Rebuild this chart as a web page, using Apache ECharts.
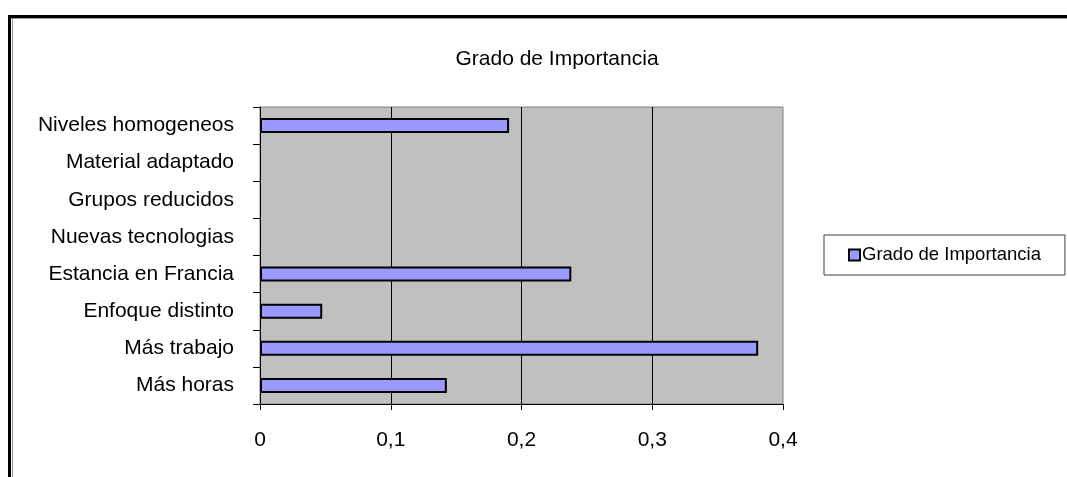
<!DOCTYPE html>
<html>
<head>
<meta charset="utf-8">
<script src="https://cdn.jsdelivr.net/npm/echarts@6/dist/echarts.min.js"></script>
<style>
  html, body { margin: 0; padding: 0; background: #fff; }
  #chart { width: 1067px; height: 477px; }
</style>
</head>
<body>
<div id="chart"></div>
<script>
// Categories listed bottom to top, as drawn on the vertical axis
const categories = [
  'Más horas',
  'Más trabajo',
  'Enfoque distinto',
  'Estancia en Francia',
  'Nuevas tecnologias',
  'Grupos reducidos',
  'Material adaptado',
  'Niveles homogeneos'
];
const importancia = [0.1429, 0.381, 0.0476, 0.2381, 0, 0, 0, 0.1905];
const seriesName = 'Grado de Importancia';
const titleText = 'Grado de Importancia';
const xTicks = { min: 0, max: 0.4, interval: 0.1 };

const FONT = "'Liberation Sans', Arial, sans-serif";
const chart = echarts.init(document.getElementById('chart'), null, { renderer: 'canvas' });

// zero-valued bars get no outline so they leave no stub on the axis
const barData = importancia.map(v => (v === 0 ? { value: v, itemStyle: { borderWidth: 0 } } : v));

chart.setOption({
  backgroundColor: '#ffffff',
  animation: false,
  title: {
    text: titleText,
    left: 552,
    top: 44,
    textAlign: 'center',
    textStyle: { fontFamily: FONT, fontSize: 21, fontWeight: 'normal', color: '#000' }
  },
  legend: {
    data: [seriesName],
    left: 824,
    top: 235,
    orient: 'vertical',
    icon: 'rect',
    itemWidth: 11,
    itemHeight: 11,
    padding: [10, 24, 10, 24],
    backgroundColor: '#ffffff',
    borderColor: '#404040',
    borderWidth: 1,
    borderRadius: 0,
    itemStyle: { color: '#9999FF', borderColor: '#000', borderWidth: 2 },
    textStyle: { fontFamily: FONT, fontSize: 18.5, color: '#000', lineHeight: 20, padding: [0, 0, 0, -3] }
  },
  grid: {
    left: 260,
    right: 284,
    top: 107,
    bottom: 73,
    show: true,
    backgroundColor: '#C0C0C0',
    borderColor: '#808080',
    borderWidth: 1
  },
  xAxis: {
    type: 'value',
    min: xTicks.min,
    max: xTicks.max,
    interval: xTicks.interval,
    axisLine: { show: true, lineStyle: { color: '#000', width: 1 } },
    axisTick: { show: true, length: 6, lineStyle: { color: '#000' } },
    axisLabel: {
      margin: 26,
      fontFamily: FONT,
      fontSize: 21,
      color: '#000',
      formatter: v => (Math.round(v * 10) / 10).toString().replace('.', ',')
    },
    splitLine: { show: true, showMinLine: false, showMaxLine: false, lineStyle: { color: '#000', width: 1 } }
  },
  yAxis: {
    type: 'category',
    data: categories,
    axisLine: { show: true, lineStyle: { color: '#000', width: 1 } },
    axisTick: { show: true, length: 7, alignWithLabel: false, lineStyle: { color: '#000' } },
    axisLabel: { margin: 26, fontFamily: FONT, fontSize: 21, color: '#000' },
    splitLine: { show: false }
  },
  series: [{
    name: seriesName,
    type: 'bar',
    data: barData,
    barWidth: 15,
    itemStyle: { color: '#9999FF', borderColor: '#000', borderWidth: 2 },
    emphasis: { disabled: true }
  }],
  graphic: [
    // frame around the chart area (left and top edges)
    { type: 'rect', shape: { x: 8, y: 15, width: 3, height: 470 }, style: { fill: '#000' }, silent: true },
    { type: 'rect', shape: { x: 8, y: 15, width: 1070, height: 3 }, style: { fill: '#000' }, silent: true },
    { type: 'line', shape: { x1: 12.5, y1: 18, x2: 12.5, y2: 477 }, style: { stroke: '#9a9a9a', lineWidth: 1 }, silent: true },
    { type: 'line', shape: { x1: 11, y1: 18.5, x2: 1067, y2: 18.5 }, style: { stroke: '#9a9a9a', lineWidth: 1 }, silent: true }
  ]
});
</script>
</body>
</html>
